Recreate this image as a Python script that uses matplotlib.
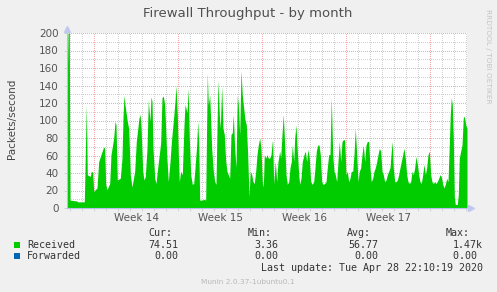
import matplotlib
matplotlib.use("Agg")
import matplotlib.pyplot as plt
import numpy as np
from matplotlib.patches import Rectangle

# hours since the left edge of the graph, packets/second
hours = [0, 2, 4.6, 6, 20, 21.4, 34.6, 35.4, 38.6, 40.6, 46.6, 48.6, 51.4, 53.4, 60, 63.4, 68, 73.4,
         75.4, 77.4, 80, 85.4, 88, 93.4, 96, 98, 100.6, 106.6, 110, 112, 114, 116, 120.6, 123.4,
         126.6, 130, 135.4, 138.6, 144, 146, 148, 151.4, 154, 156.6, 160, 162.6, 166, 168, 170, 172,
         175.4, 178, 181.4, 184.6, 187.4, 190, 192.6, 195.4, 196, 199.4, 202.6, 206, 209.4, 212.6,
         216, 218, 220.6, 222.6, 224.6, 227.4, 230.6, 234, 236, 238, 240, 242.6, 244.6, 247.4,
         250.6, 253.4, 256, 259.4, 261.4, 263.4, 265.4, 270.6, 274, 277.4, 278.6, 280.6, 282.6,
         285.4, 287.4, 289.4, 292.6, 295.4, 298, 300, 302, 304.6, 306.6, 309.4, 312, 314.6, 317.4,
         320, 322.6, 325.4, 328, 330.6, 332.6, 335.4, 338, 340.6, 342.6, 345.4, 348, 350.6, 353.4,
         356, 358.6, 361.4, 364, 366.6, 369.4, 372, 374.6, 377.4, 380, 382.6, 385.4, 388, 390.6,
         392.6, 394.6, 397.4, 400, 402.6, 405.4, 408, 410.6, 411.4, 413.4, 416.6, 419.4, 422, 425.4,
         427.4, 430, 432.6, 435.4, 438, 440.6, 443.4, 446, 448.6, 450.6, 453.4, 455.4, 458, 460.6,
         463.4, 465.4, 468, 470.6, 474, 476.6, 479.4, 482, 484.6, 487.4, 490.6, 493.4, 496, 498.6,
         501.4, 504, 506.6, 509.4, 512, 515.4, 518, 520.6, 523.4, 526, 528.6, 531.4, 534, 536.6,
         539.4, 542, 544.6, 547.4, 550, 552.6, 555.4, 558, 560.6, 563.4, 566, 568.6, 571.4, 574,
         576.6, 579.4, 582, 584.6, 587.4, 590, 592.6, 595.4, 598, 600.6, 603.4, 606, 608.6, 611.4,
         614, 616.6, 619.4, 622, 624.6, 627.4, 630, 632.6, 635.4, 638, 640.6, 643.4, 646, 648.6,
         650.6, 652.6, 655.4, 658, 660.6, 663.4, 666, 668.6, 671.4, 674, 676.6, 679.4, 682, 684.6,
         687.4, 690, 692.6, 695.4, 698, 700.6, 703.4, 706, 708.6, 711.4, 714, 716.6, 719.4, 722,
         724.6, 727.4, 730, 732.6, 735.4, 738, 740.6, 743.4, 746, 748.6, 751.4, 754, 756.6, 759.4,
         762, 764.6, 766.6, 768.6, 770.6, 772.6, 774.6, 776.6, 780.6, 782.6, 784.6, 787.4, 790,
         792.6, 794.6, 797.4, 800]
received = [126, 200, 200, 9, 8, 7, 7, 27, 118, 38, 36, 42, 41, 19, 23, 53, 61, 70,
            68, 27, 21, 28, 61, 80, 99, 95, 32, 34, 57, 103, 129, 118, 99, 91,
            38, 24, 42, 76, 103, 107, 95, 42, 32, 36, 68, 123, 99, 127, 122, 68,
            34, 28, 46, 61, 75, 126, 128, 118, 110, 61, 30, 53, 80, 99,
            122, 140, 107, 61, 30, 42, 38, 95, 118, 114, 109, 137, 80, 38,
            27, 28, 46, 72, 99, 76, 9, 9, 10, 9, 65, 154, 118,
            129, 99, 68, 42, 30, 27, 91, 146, 107, 91, 139, 91, 84, 53,
            42, 38, 34, 84, 86, 107, 68, 46, 129, 118, 84, 157, 129, 114,
            101, 95, 61, 13, 42, 38, 30, 28, 42, 61, 72, 80, 68, 30,
            24, 61, 57, 61, 57, 57, 61, 76, 76, 27, 53, 30, 53, 65,
            57, 84, 107, 72, 38, 27, 30, 46, 53, 72, 53, 80, 95, 65,
            38, 27, 34, 53, 61, 65, 53, 67, 57, 30, 27, 30, 46, 65,
            72, 72, 61, 30, 27, 28, 30, 46, 61, 61, 126, 61, 42, 38,
            30, 53, 76, 53, 76, 78, 78, 38, 42, 30, 34, 42, 42, 61,
            91, 61, 30, 42, 46, 61, 72, 53, 72, 76, 76, 45, 30, 34,
            42, 46, 53, 61, 68, 65, 42, 38, 30, 32, 38, 42, 46, 65,
            76, 46, 30, 30, 32, 38, 46, 53, 61, 68, 57, 38, 30, 28,
            30, 42, 38, 46, 59, 50, 38, 30, 28, 38, 50, 38, 46, 61,
            65, 38, 30, 28, 30, 28, 30, 34, 38, 36, 27, 23, 27, 34,
            30, 72, 107, 126, 118, 80, 13, 4, 4, 15, 57, 65, 72,
            103, 105, 95, 91]

week_pos = [138.6, 306.6, 474.6, 642.6]
week_labels = ["Week 14", "Week 15", "Week 16", "Week 17"]

series = ["Received", "Forwarded"]
colors = ["#00CC00", "#0066B3"]
cur = ["74.51", "0.00"]
vmin = ["3.36", "0.00"]
avg = ["56.77", "0.00"]
vmax = ["1.47k", "0.00 "]

W, H = 497, 292
fig = plt.figure(figsize=(W / 100, H / 100), dpi=100, facecolor="#F0F0F0")
ax = fig.add_axes([67 / W, 1 - 208 / H, 400.3 / W, 175 / H])
ax.set_facecolor("white")

def fx(px):
    return px / W

def fy(py):
    return 1 - py / H

# grid, dotted like rrdtool
xmax = 800.6
for h in np.arange(6.6, xmax, 24):
    major = abs((h - 54.6) % 168) < 1e-6
    ax.axvline(h, color="#F4A8A8" if major else "#D2D2D2", lw=0.72,
               ls=(0, (1, 1.2)), antialiased=False, zorder=1)
for v in range(10, 201, 10):
    ax.axhline(v, color="#F4A8A8" if v % 20 == 0 else "#D2D2D2", lw=0.72,
               ls=(0, (1, 1.2)), antialiased=False, zorder=1)

ax.fill_between(hours, received, 0, color="#00CC00", lw=0, zorder=2)

ax.set_xlim(0, xmax)
ax.set_ylim(0, 200)
for s in ["top", "right"]:
    ax.spines[s].set_visible(False)
for s in ["left", "bottom"]:
    ax.spines[s].set_color("#B8C0EC")
    ax.spines[s].set_linewidth(0.8)
    ax.spines[s].set_zorder(3)

ax.set_yticks(range(0, 201, 20))
ax.set_yticklabels([str(v) for v in range(0, 201, 20)])
ax.tick_params(axis="y", length=2, width=0.6, color="#CFCFCF", pad=4,
               labelsize=7.5, labelcolor="#555555")
ax.set_xticks(np.arange(6.6, xmax, 24))
ax.set_xticklabels([])
ax.tick_params(axis="x", length=2, width=0.6, color="#CFCFCF")
for p, lab in zip(week_pos, week_labels):
    ax.text(p, -5.5, lab, ha="center", va="top", fontsize=7.5, color="#555555")

# axis arrows
ax.plot([0], [1.025], marker="^", ms=5, color="#C0C8F0", transform=ax.transAxes,
        clip_on=False, zorder=4)
ax.plot([1.01], [0], marker=">", ms=5, color="#C0C8F0", transform=ax.transAxes,
        clip_on=False, zorder=4)

fig.text(fx(248), fy(13), "Firewall Throughput - by month", ha="center", va="center",
         fontsize=9.5, color="#505050")
fig.text(fx(12), fy(119), "Packets/second", rotation=90, ha="center", va="center",
         fontsize=7.5, color="#444444")
fig.text(fx(488), fy(56), "RRDTOOL / TOBI OETIKER", rotation=270, ha="center", va="center",
         fontsize=5.3, color="#C4C4C4")

mono = "DejaVu Sans Mono"
fs = 7.2
tc = "#333333"
for txt, xr in zip(["Cur:", "Min:", "Avg:", "Max:"], [172, 272, 371, 470]):
    fig.text(fx(xr), fy(233), txt, ha="right", va="center", family=mono, fontsize=fs, color=tc)
for i, name in enumerate(series):
    yy = 244.5 + i * 11.5
    fig.add_artist(Rectangle((fx(14), fy(yy + 3)), 6 / W, 6 / H, transform=fig.transFigure,
                             color=colors[i], lw=0))
    fig.text(fx(27), fy(yy), name, ha="left", va="center", family=mono, fontsize=fs, color=tc)
    for val, xr in zip([cur[i], vmin[i], avg[i], vmax[i]], [178, 278, 378, 483]):
        fig.text(fx(xr), fy(yy), val, ha="right", va="center", family=mono, fontsize=fs, color=tc)
fig.text(fx(483), fy(268), "Last update: Tue Apr 28 22:10:19 2020", ha="right", va="center",
         family=mono, fontsize=fs, color=tc)
fig.text(fx(248), fy(282), "Munin 2.0.37-1ubuntu0.1", ha="center", va="center",
         fontsize=5.3, color="#B8B8B8")

fig.savefig("out.png", dpi=100, facecolor=fig.get_facecolor())
